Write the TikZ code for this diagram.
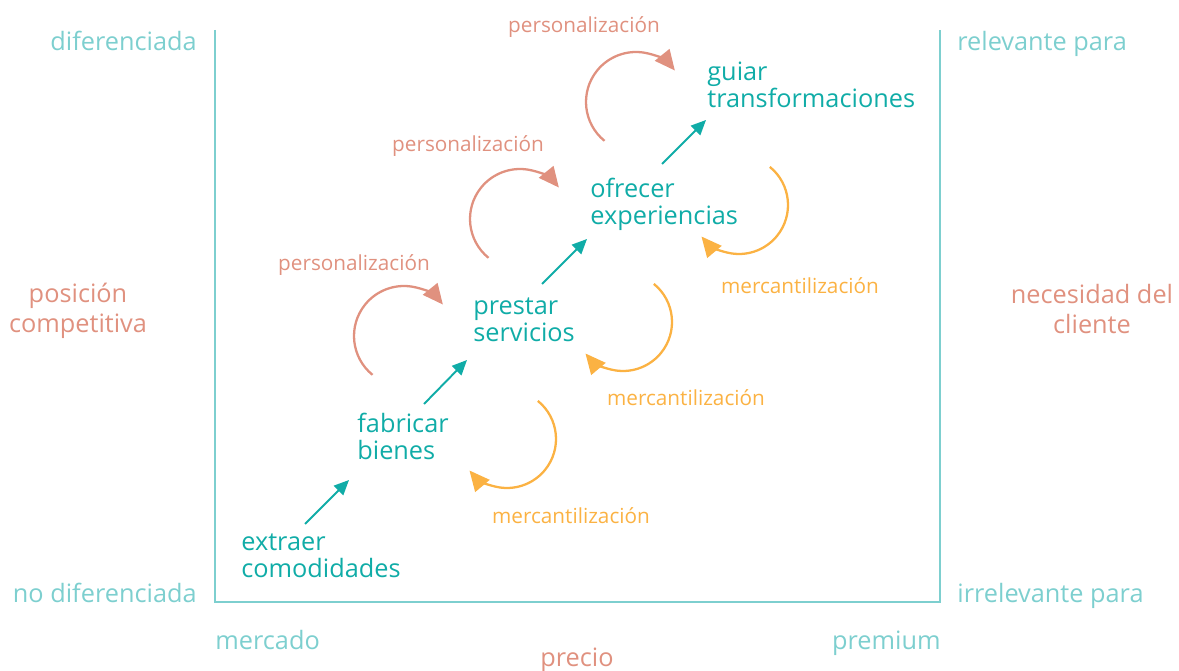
\documentclass[tikz,border=0pt]{standalone}
\usepackage{fontspec}
\setmainfont{Open Sans}
\usetikzlibrary{arrows.meta}
\definecolor{framecol}{HTML}{7DCFCF}
\definecolor{stagecol}{HTML}{10ACA7}
\definecolor{salmon}{HTML}{E0917F}
\definecolor{amber}{HTML}{FBB243}
\tikzset{stage/.style={anchor=base west,align=left,inner sep=0pt,text=stagecol,font=\fontsize{14.4}{15.4}\selectfont},
         axis/.style={inner sep=0pt,text=framecol,font=\fontsize{14.4}{15.4}\selectfont},
         loopnote/.style={anchor=base,inner sep=0pt,font=\fontsize{11.8}{13}\selectfont},
         climb/.style={-{Triangle[length=8.5pt,width=7.5pt]},line width=1.1pt,stagecol},
         persloop/.style={-{Triangle[length=11.5pt,width=10.5pt]},line width=1.3pt,salmon},
         mercloop/.style={-{Triangle[length=11.5pt,width=10.5pt]},line width=1.3pt,amber}}

\begin{document}
\begin{tikzpicture}[x=0.02cm,y=-0.02cm]
                  \useasboundingbox (0,0) rectangle (1179,671);
                  % frame
                  \draw[framecol,line width=1.1pt] (215,30) -- (215,602) -- (940,602) -- (940,30);
                  \node[axis,anchor=base east] (dif) at (197,51) {diferenciada};
                  \node[axis,anchor=base east] (nodif) at (197,602) {no diferenciada};
                  \node[axis,anchor=base west] (rel) at (957,51) {relevante para};
                  \node[axis,anchor=base west] (irrel) at (957,602) {irrelevante para};
                  \node[axis,anchor=base west] (mercado) at (215,649) {mercado};
                  \node[axis,anchor=base east] (premium) at (941,649) {premium};
                  \node[axis,text=salmon,anchor=base] (precio) at (577,666) {precio};
                  \node[axis,text=salmon,align=center,font=\fontsize{14.4}{17}\selectfont] (posicion) at (78,311) {posición\\competitiva};
                  \node[axis,text=salmon,align=center,font=\fontsize{14.4}{17}\selectfont] (necesidad) at (1092,309) {necesidad del\\cliente};
                  % stages
                  \node[stage] (extraer) at (241,578) {extraer\\comodidades};
                  \node[stage] (fabricar) at (357,460) {fabricar\\bienes};
                  \node[stage] (prestar) at (473,342) {prestar\\servicios};
                  \node[stage] (ofrecer) at (590,225) {ofrecer\\experiencias};
                  \node[stage] (guiar) at (707,108) {guiar\\transformaciones};
                  \coordinate (up1a) at (305,524); \coordinate (up1b) at (349,480);
                  \coordinate (up2a) at (424,404); \coordinate (up2b) at (467,360);
                  \coordinate (up3a) at (542,284); \coordinate (up3b) at (587,239);
                  \coordinate (up4a) at (662,164); \coordinate (up4b) at (706,120);
                  \draw[climb] (up1a) -- (up1b);
                  \draw[climb] (up2a) -- (up2b);
                  \draw[climb] (up3a) -- (up3b);
                  \draw[climb] (up4a) -- (up4b);
                  % loops
                  \draw[persloop] (404,336) ++(129:50) arc[start angle=129,end angle=321,radius=50];
                  \draw[persloop] (520,219) ++(129:50) arc[start angle=129,end angle=321,radius=50];
                  \draw[persloop] (636,102) ++(129:50) arc[start angle=129,end angle=321,radius=50];
                  \draw[mercloop] (507,439) ++(-51:49) arc[start angle=-51,end angle=140,radius=49];
                  \draw[mercloop] (623,322) ++(-51:49) arc[start angle=-51,end angle=140,radius=49];
                  \draw[mercloop] (739,205) ++(-51:49) arc[start angle=-51,end angle=140,radius=49];
                  \node[loopnote,text=salmon] (pers1) at (354,271) {personalización};
                  \node[loopnote,text=salmon] (pers2) at (468,152) {personalización};
                  \node[loopnote,text=salmon] (pers3) at (584,33) {personalización};
                  \node[loopnote,text=amber] (merc1) at (571,523) {mercantilización};
                  \node[loopnote,text=amber] (merc2) at (686,406) {mercantilización};
                  \node[loopnote,text=amber] (merc3) at (800,294) {mercantilización};
              \end{tikzpicture}
\end{document}
